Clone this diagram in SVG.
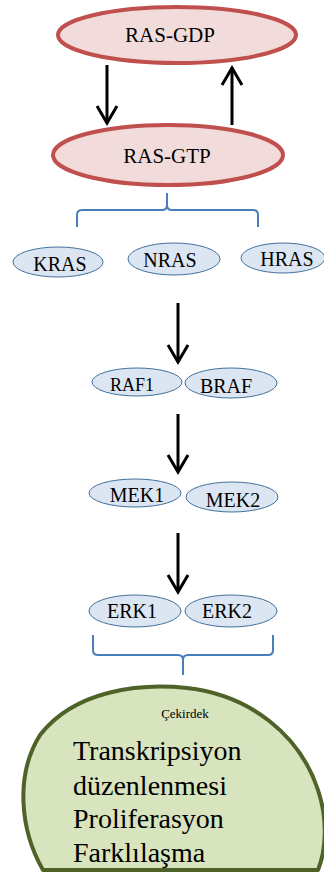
<svg xmlns="http://www.w3.org/2000/svg" width="324" height="880" viewBox="0 0 324 880">
<style>
.ras{fill:#f2dcdb;stroke:#c0504d;stroke-width:4}
.prot{fill:#dce6f2;stroke:#41719c;stroke-width:1}
.t{font-family:"Liberation Serif","Times New Roman",serif;fill:#000;text-anchor:middle}
.arrow{stroke:#000;stroke-width:3;fill:none;marker-end:url(#ah)}
.brace{stroke:#4a7ebb;stroke-width:2;fill:none}
</style>
<defs>
<marker id="ah" markerUnits="userSpaceOnUse" orient="auto" refX="0" refY="0" markerWidth="40" markerHeight="40" viewBox="-20 -20 40 40" overflow="visible">
<path d="M-17,-10 L0,0 L-17,10" stroke="#000" stroke-width="3" fill="none" stroke-linejoin="miter"/>
</marker>
</defs>
<rect width="324" height="880" fill="#fff"/>
<g id="connectors">
<path class="arrow" d="M107,65 V123"/>
<path class="arrow" d="M232,125 V68"/>
<path class="arrow" d="M178,303 V362"/>
<path class="arrow" d="M178,414 V472"/>
<path class="arrow" d="M178,533 V592"/>
<path class="brace" d="M77,227 V215 Q77,210 82,210 H162 Q167,210 167,205 V193 M167,205 Q167,210 172,210 H253 Q258,210 258,215 V227"/>
<path class="brace" d="M93,635 V650 Q93,655 98,655 H178 Q183,655 183,660 V675 M183,660 Q183,655 188,655 H268 Q273,655 273,650 V635"/>
</g>
<g id="ras-gdp">
<ellipse class="ras" cx="177" cy="35" rx="119" ry="28"/>
<text class="t" x="170" y="42" font-size="21">RAS-GDP</text>
</g>
<g id="ras-gtp">
<ellipse class="ras" cx="168" cy="155" rx="115" ry="30"/>
<text class="t" x="167" y="163" font-size="21">RAS-GTP</text>
</g>
<g id="kras">
<ellipse class="prot" cx="58" cy="262" rx="45" ry="15"/>
<text class="t" x="60" y="271" font-size="20">KRAS</text>
</g>
<g id="nras">
<ellipse class="prot" cx="174" cy="259" rx="46" ry="16"/>
<text class="t" x="170" y="267" font-size="20">NRAS</text>
</g>
<g id="hras">
<ellipse class="prot" cx="283" cy="258" rx="42" ry="15"/>
<text class="t" x="287" y="266" font-size="20">HRAS</text>
</g>
<g id="raf1">
<ellipse class="prot" cx="137" cy="382" rx="45" ry="14"/>
<text class="t" x="132" y="391" font-size="18">RAF1</text>
</g>
<g id="braf">
<ellipse class="prot" cx="231" cy="383" rx="46" ry="15"/>
<text class="t" x="226" y="393" font-size="20">BRAF</text>
</g>
<g id="mek1">
<ellipse class="prot" cx="135" cy="493" rx="46" ry="14"/>
<text class="t" x="137" y="502" font-size="20">MEK1</text>
</g>
<g id="mek2">
<ellipse class="prot" cx="232" cy="497" rx="46" ry="15"/>
<text class="t" x="233" y="507" font-size="20">MEK2</text>
</g>
<g id="erk1">
<ellipse class="prot" cx="135" cy="611" rx="46" ry="16"/>
<text class="t" x="132" y="618" font-size="20">ERK1</text>
</g>
<g id="erk2">
<ellipse class="prot" cx="231" cy="611" rx="46" ry="16"/>
<text class="t" x="227" y="618" font-size="20">ERK2</text>
</g>
<g id="nucleus">
<path d="M43,870 C20,830 15,775 40,735 C75,690 140,683 187,688 C250,695 300,735 318,790 C328,820 326,850 318,870 Z" fill="#d7e4bd" stroke="#4f6228" stroke-width="4" stroke-linejoin="round"/>
<text class="t" x="185" y="718" font-size="13">Çekirdek</text>
<text class="t" x="73" y="760" font-size="28" text-anchor="start" style="text-anchor:start">Transkripsiyon</text>
<text class="t" x="73" y="795" font-size="28" style="text-anchor:start">düzenlenmesi</text>
<text class="t" x="73" y="828" font-size="28" style="text-anchor:start">Proliferasyon</text>
<text class="t" x="73" y="862" font-size="28" style="text-anchor:start">Farklılaşma</text>
</g>
</svg>
